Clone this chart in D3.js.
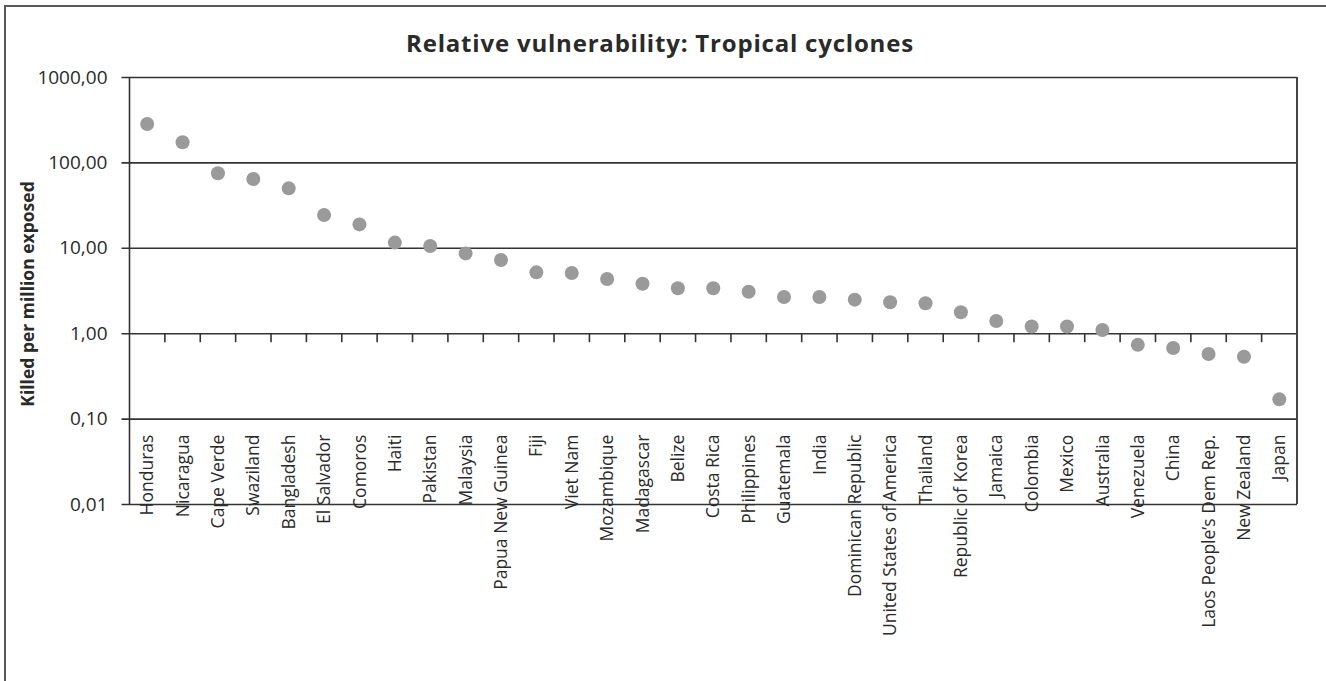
<!DOCTYPE html>
<html>
<head>
<meta charset="utf-8">
<script src="https://cdn.jsdelivr.net/npm/d3@7"></script>
<style>
  html, body { margin: 0; padding: 0; background: #fff; }
  svg { display: block; }
  text { font-family: "Open Sans", "Liberation Sans", sans-serif; fill: #2a2a2a; }
</style>
</head>
<body>
<svg id="chart" width="1326" height="681"></svg>
<script>
const countries = [
  "Honduras", "Nicaragua", "Cape Verde", "Swaziland", "Bangladesh", "El Salvador",
  "Comoros", "Haiti", "Pakistan", "Malaysia", "Papua New Guinea", "Fiji", "Viet Nam",
  "Mozambique", "Madagascar", "Belize", "Costa Rica", "Philippines", "Guatemala",
  "India", "Dominican Republic", "United States of America", "Thailand",
  "Republic of Korea", "Jamaica", "Colombia", "Mexico", "Australia", "Venezuela",
  "China", "Laos People\u2019s Dem Rep.", "New Zealand", "Japan"
];
const killedPerMillion = [
  282, 172, 74.5, 64, 49.7, 24.2,
  18.8, 11.5, 10.5, 8.6, 7.2, 5.16, 5.07,
  4.31, 3.8, 3.36, 3.36, 3.06, 2.65,
  2.65, 2.47, 2.3, 2.24,
  1.76, 1.39, 1.2, 1.2, 1.09, 0.73,
  0.67, 0.57, 0.53, 0.168
];
const yTickValues = [0.01, 0.1, 1, 10, 100, 1000];
const titleText = "Relative vulnerability: Tropical cyclones";
const yAxisTitle = "Killed per million exposed";

const svg = d3.select("#chart");
const pLeft = 129.5, pRight = 1297, pTop = 77, pBottom = 504;

// outer frame
svg.append("rect")
  .attr("x", 5).attr("y", 6).attr("width", 1400).attr("height", 800)
  .attr("fill", "none").attr("stroke", "#5a5a5a").attr("stroke-width", 2);

const x = d3.scaleBand().domain(countries).range([pLeft, pRight]).padding(0);
const y = d3.scaleLog().domain([0.01, 1000]).range([pBottom, pTop]);

const fmt = v => d3.format(".2f")(v).replace(".", ",");

// y axis with gridlines
const yAxis = d3.axisLeft(y).tickValues(yTickValues).tickFormat(fmt).tickSizeOuter(0).tickPadding(16);
const gy = svg.append("g").attr("transform", `translate(${pLeft},0)`).call(yAxis);
gy.select(".domain").remove();
gy.selectAll(".tick line")
  .attr("x1", -8).attr("x2", pRight - pLeft)
  .attr("stroke", "#333").attr("stroke-width", 1.6);
gy.selectAll(".tick text")
  .attr("font-family", "Open Sans, Liberation Sans, sans-serif")
  .attr("font-size", 19).attr("fill", "#333");

// plot box verticals
svg.append("line").attr("x1", pLeft).attr("x2", pLeft).attr("y1", y(1000)).attr("y2", y(0.01))
  .attr("stroke", "#333").attr("stroke-width", 1.6);
svg.append("line").attr("x1", pRight).attr("x2", pRight).attr("y1", y(1000)).attr("y2", y(0.01))
  .attr("stroke", "#444").attr("stroke-width", 2);

// category boundary ticks on the 1,00 line
svg.append("g").selectAll("line")
  .data(countries.slice(1))
  .join("line")
  .attr("x1", d => x(d)).attr("x2", d => x(d))
  .attr("y1", y(1)).attr("y2", y(1) + 9)
  .attr("stroke", "#333").attr("stroke-width", 1.6);

// category labels
svg.append("g").selectAll("text")
  .data(countries)
  .join("text")
  .attr("transform", d => `translate(${x(d) + x.bandwidth() / 2},${y(0.1) + 16}) rotate(-90)`)
  .attr("text-anchor", "end")
  .attr("dy", "0.35em")
  .attr("font-size", 17.5)
  .attr("fill", "#2a2a2a")
  .text(d => d);

// points
svg.append("g").selectAll("circle")
  .data(countries.map((c, i) => ({ c, v: killedPerMillion[i] })))
  .join("circle")
  .attr("cx", d => x(d.c) + x.bandwidth() / 2)
  .attr("cy", d => y(d.v))
  .attr("r", 7)
  .attr("fill", "#9a9a9a");

// title
svg.append("text")
  .attr("x", 660).attr("y", 52)
  .attr("text-anchor", "middle")
  .attr("font-size", 24).attr("font-weight", "bold")
  .attr("letter-spacing", 0.8)
  .attr("fill", "#2a2a2a")
  .text(titleText);

// y axis title
svg.append("text")
  .attr("transform", "translate(34,294) rotate(-90)")
  .attr("text-anchor", "middle")
  .attr("font-size", 17.5).attr("font-weight", "bold")
  .attr("fill", "#2a2a2a")
  .text(yAxisTitle);
</script>
</body>
</html>
